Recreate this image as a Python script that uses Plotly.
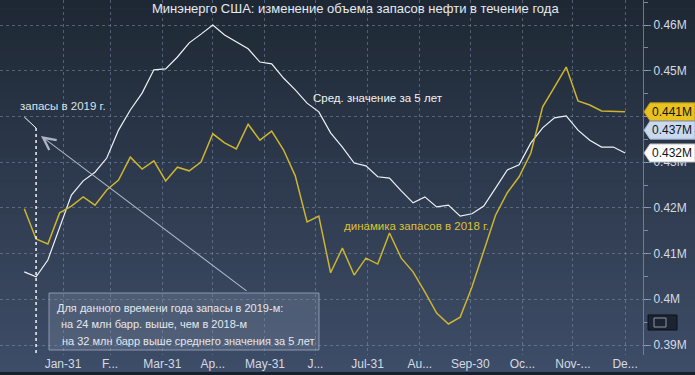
import plotly.graph_objects as go
import pandas as pd

# ---------------- data ----------------
week_start = "2019-01-08"
n_weeks = 52
avg_5y = [0.4060, 0.4049, 0.4086, 0.4156, 0.4228, 0.4259, 0.4278, 0.4309, 0.4370, 0.4414,
          0.4451, 0.4502, 0.4504, 0.4530, 0.4561, 0.4580, 0.4600, 0.4578, 0.4563, 0.4548,
          0.4519, 0.4515, 0.4484, 0.4458, 0.4429, 0.4410, 0.4364, 0.4333, 0.4298, 0.4292,
          0.4268, 0.4265, 0.4237, 0.4211, 0.4224, 0.4202, 0.4206, 0.4182, 0.4187, 0.4204,
          0.4243, 0.4283, 0.4294, 0.4342, 0.4375, 0.4397, 0.4401, 0.4370, 0.4348, 0.4333,
          0.4333, 0.4320]
stocks_2018 = [0.4198, 0.4132, 0.4121, 0.4189, 0.4204, 0.4224, 0.4206, 0.4239, 0.4261, 0.4311,
               0.4285, 0.4303, 0.4259, 0.4289, 0.4281, 0.4300, 0.4362, 0.4342, 0.4329, 0.4383,
               0.4348, 0.4368, 0.4327, 0.4270, 0.4169, 0.4182, 0.4058, 0.4112, 0.4053, 0.4090,
               0.4077, 0.4145, 0.4090, 0.4060, 0.4016, 0.3970, 0.3946, 0.3961, 0.4027, 0.4108,
               0.4184, 0.4233, 0.4268, 0.4320, 0.4421, 0.4464, 0.4508, 0.4434, 0.4425, 0.4412,
               0.4411, 0.4410]
tick_dates = ["2019-01-31", "2019-02-28", "2019-03-31", "2019-04-30", "2019-05-31", "2019-06-30",
              "2019-07-31", "2019-08-31", "2019-09-30", "2019-10-31", "2019-11-30", "2019-12-31"]
tick_text = ["Jan-31", "F...", "Mar-31", "Ap...", "May-31", "J...",
             "Jul-31", "Au...", "Sep-30", "Oc...", "Nov-...", "De..."]
y_ticks = [0.39, 0.40, 0.41, 0.42, 0.43, 0.44, 0.45, 0.46]
y_tick_text = ["0.39M", "0.4M", "0.41M", "0.42M", "0.43M", "", "0.45M", "0.46M"]
badges = [("0.441M", 0.441, "#e8c21e", "#b8961a"),
          ("0.437M", 0.437, "#c9d9f0", "#9fb2cc"),
          ("0.432M", 0.432, "#ffffff", "#c0c0c0")]

dates = pd.date_range(week_start, periods=n_weeks, freq="7D")

# ---------------- layout geometry (pixels) ----------------
W, H = 695, 375
PW, PH = 643, 355          # plot area size
def px(x):  # pixel x -> paper x
    return x / PW
def py(y):  # pixel y -> paper y
    return 1 - y / PH

PX_PER_DAY = 1.683
jan31 = pd.Timestamp("2019-01-31")
x0 = jan31 - pd.Timedelta(days=63 / PX_PER_DAY)
x1 = x0 + pd.Timedelta(days=PW / PX_PER_DAY)
y_top = 0.46 + 25 / 4571.4
y_bot = 0.46 - 330 / 4571.4

fig = go.Figure()

fig.add_trace(go.Scatter(x=dates, y=avg_5y, mode="lines",
                         line=dict(color="#eef2f6", width=1.2), hoverinfo="skip"))
fig.add_trace(go.Scatter(x=dates, y=stocks_2018, mode="lines",
                         line=dict(color="#cdb530", width=1.5), hoverinfo="skip"))

shapes = []
# gradient background
top_c = (30, 40, 52)
bot_c = (62, 77, 104)
nb = 45
band_h = 372 / nb
for i in range(nb):
    t = (i + 0.5) / nb
    c = tuple(int(round(top_c[k] + (bot_c[k] - top_c[k]) * t)) for k in range(3))
    shapes.append(dict(type="rect", xref="paper", yref="paper", layer="below",
                       x0=0, x1=px(W), y0=py(i * band_h + band_h + 0.5), y1=py(i * band_h),
                       fillcolor="rgb(%d,%d,%d)" % c, line=dict(width=0)))
shapes.append(dict(type="rect", xref="paper", yref="paper", layer="below",
                   x0=0, x1=px(W), y0=py(H), y1=py(372),
                   fillcolor="#18202d", line=dict(width=0)))

# 2019 marker
shapes.append(dict(type="line", xref="x", yref="paper", x0=dates[1], x1=dates[1],
                   y0=py(128), y1=py(355), line=dict(color="#ffffff", width=1.4, dash="dot")))
shapes.append(dict(type="line", xref="x", yref="paper", x0=dates[0], x1=dates[1],
                   y0=py(117), y1=py(128), line=dict(color="#ffffff", width=1)))

# info box
shapes.append(dict(type="rect", xref="paper", yref="paper", x0=px(49), x1=px(319),
                   y0=py(350), y1=py(293), fillcolor="rgba(125,140,165,0.32)",
                   line=dict(color="rgba(165,175,195,0.75)", width=1)))

# badges
for label, val, fill, border in badges:
    yc = 25 + (0.46 - val) * 4571.4
    path = "M %f %f L %f %f L %f %f L %f %f L %f %f Z" % (
        px(644), py(yc), px(650), py(yc - 9), px(695), py(yc - 9),
        px(695), py(yc + 9), px(650), py(yc + 9))
    shapes.append(dict(type="path", xref="paper", yref="paper", path=path,
                       fillcolor=fill, line=dict(color=border, width=1)))

# small chart icon bottom right
shapes.append(dict(type="rect", xref="paper", yref="paper", x0=px(648), x1=px(677),
                   y0=py(330), y1=py(315), fillcolor="#1c2432", line=dict(color="#0c1018", width=1)))
shapes.append(dict(type="rect", xref="paper", yref="paper", x0=px(654), x1=px(666),
                   y0=py(327), y1=py(318), fillcolor="rgba(0,0,0,0)", line=dict(color="#8a96a8", width=1)))

annotations = []
FONT = "Liberation Sans, Arial, sans-serif"
annotations.append(dict(text="Минэнерго США: изменение объема запасов нефти в течение года",
                        xref="paper", yref="paper", x=px(355), y=py(9), xanchor="center",
                        yanchor="middle", showarrow=False,
                        font=dict(family=FONT, size=13, color="#e6eaf0")))
annotations.append(dict(text="запасы в 2019 г.", xref="paper", yref="paper", x=px(18), y=py(106),
                        xanchor="left", yanchor="middle", showarrow=False,
                        font=dict(family=FONT, size=11.5, color="#dde2ea")))
annotations.append(dict(text="Сред. значение за 5 лет", xref="paper", yref="paper", x=px(311), y=py(98),
                        xanchor="left", yanchor="middle", showarrow=False,
                        font=dict(family=FONT, size=11.5, color="#f2f4f7")))
annotations.append(dict(text="динамика запасов в 2018 г.", xref="paper", yref="paper", x=px(342), y=py(226),
                        xanchor="left", yanchor="middle", showarrow=False,
                        font=dict(family=FONT, size=11.5, color="#dcc238")))
for txt, yy, xx in [("Для данного времени года запасы в 2019-м:", 308, 55),
                    ("на 24 млн барр. выше, чем в 2018-м", 324, 59),
                    ("на 32 млн барр выше среднего значения за 5 лет", 341, 60)]:
    annotations.append(dict(text=txt, xref="paper", yref="paper", x=px(xx), y=py(yy),
                            xanchor="left", yanchor="middle", showarrow=False,
                            font=dict(family=FONT, size=11, color="#e4e8ee")))
# arrow
annotations.append(dict(text="", xref="paper", yref="paper", x=px(41), y=py(136),
                        ax=207, ay=156, axref="pixel", ayref="pixel", showarrow=True,
                        arrowhead=5, arrowsize=2.2, arrowwidth=1.1,
                        arrowcolor="rgba(185,195,212,0.9)"))
# badge texts
for label, val, fill, border in badges:
    yc = 25 + (0.46 - val) * 4571.4
    annotations.append(dict(text=label, xref="paper", yref="paper", x=px(650), y=py(yc),
                            xanchor="left", yanchor="middle", showarrow=False,
                            font=dict(family=FONT, size=12, color="#141414")))

grid_c = "rgba(140,160,190,0.45)"
fig.update_layout(
    width=W, height=H,
    margin=dict(l=0, r=W - PW, t=0, b=H - PH, autoexpand=False),
    paper_bgcolor="#3a4864",
    plot_bgcolor="rgba(0,0,0,0)",
    showlegend=False,
    hovermode=False,
    shapes=shapes,
    annotations=annotations,
    xaxis=dict(type="date", range=[x0, x1], tickvals=tick_dates, ticktext=tick_text,
               showgrid=True, gridcolor=grid_c, griddash="3px,3px", gridwidth=1,
               ticks="", showline=False, zeroline=False,
               tickfont=dict(family=FONT, size=12, color="#d4dae3")),
    yaxis=dict(side="right", range=[y_bot, y_top], tickvals=y_ticks, ticktext=y_tick_text,
               showgrid=True, gridcolor=grid_c, griddash="3px,3px", gridwidth=1,
               ticks="outside", ticklen=7, tickcolor="rgba(140,160,190,0.8)",
               minor=dict(dtick=0.005, tick0=0.39, ticks="outside", ticklen=4,
                          tickcolor="rgba(140,160,190,0.8)", showgrid=False),
               showline=True, linecolor="rgba(120,140,170,0.8)", linewidth=1,
               zeroline=False,
               tickfont=dict(family=FONT, size=12, color="#d4dae3")),
)

fig.write_html("out.html", config={"displayModeBar": False},
               post_script="document.body.style.margin='0';document.body.style.overflow='hidden';")
